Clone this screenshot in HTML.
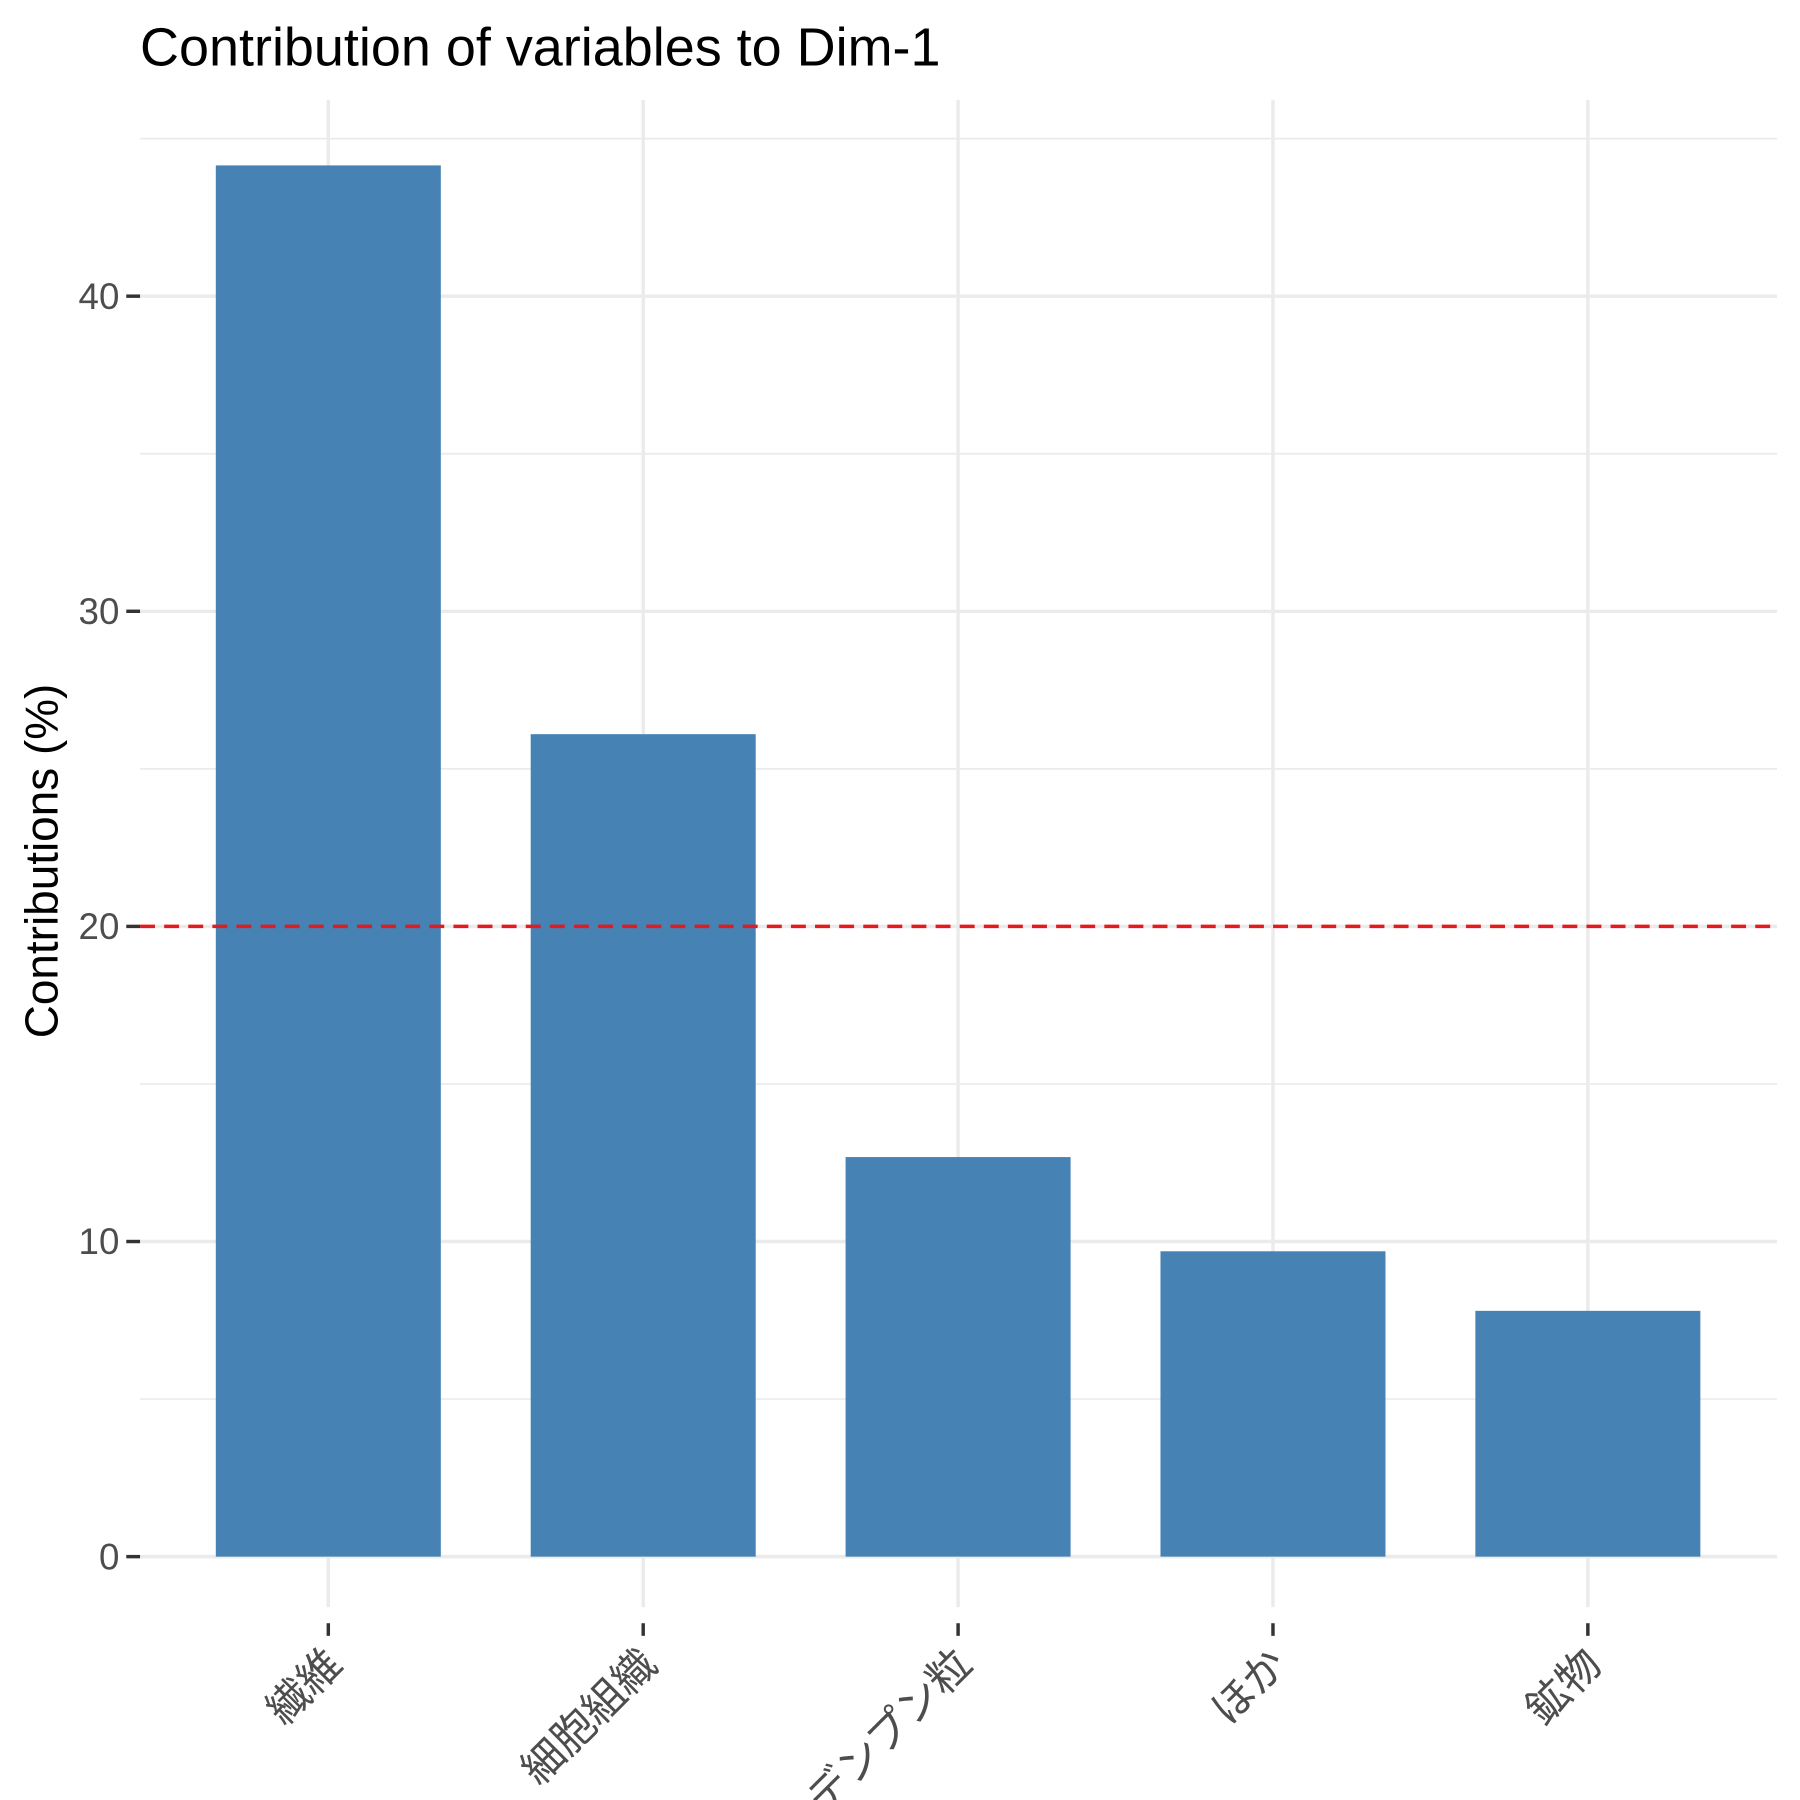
<!DOCTYPE html>
<html><head><meta charset="utf-8"><style>html,body{margin:0;padding:0;background:#fff}svg{display:block}</style></head>
<body>
<svg id="chart" width="1800" height="1800" viewBox="0 0 1568 1568" xmlns="http://www.w3.org/2000/svg" font-family="'Liberation Sans','Noto Sans CJK JP',sans-serif">
<rect width="1568" height="1568" fill="#fff"/>
<text x="122" y="57" font-size="47" fill="#000">Contribution of variables to Dim-1</text>
<text transform="translate(50,750) rotate(-90)" text-anchor="middle" font-size="40" fill="#000">Contributions (%)</text>
<g id="grid"></g><g id="bars"></g><g id="axes"></g>
</svg>
<script>
const categories = ["繊維","細胞組織","デンプン粒","ほか","鉱物"];
const values = [44.15, 26.1, 12.68, 9.69, 7.8];
const yTicks = [0,10,20,30,40];
const yMinor = [5,15,25,35,45];
const refLine = 20;
const NS="http://www.w3.org/2000/svg";
const L=122,R=1548,T=87,B=1400;
const y=v=>1356-v*27.45;
const x=i=>286+i*274.3;
const bw=196;
function mk(t,a,p){const e=document.createElementNS(NS,t);for(const k in a)e.setAttribute(k,a[k]);p.appendChild(e);return e;}
const grid=document.getElementById('grid'),bars=document.getElementById('bars'),axes=document.getElementById('axes');
yMinor.forEach(v=>{if(y(v)<T)return;const l=mk('line',{x1:L,x2:R,y1:y(v),y2:y(v),stroke:'#ebebeb','stroke-width':1.5},grid);

});
yTicks.forEach(v=>{const l=mk('line',{x1:L,x2:R,y1:y(v),y2:y(v),stroke:'#ebebeb','stroke-width':3},grid);


const t=mk('line',{x1:110,x2:122,y1:y(v),y2:y(v),stroke:'#333','stroke-width':3},axes);


const tx=mk('text',{x:104,y:y(v)+11,'text-anchor':'end','font-size':32,fill:'#4d4d4d'},axes);tx.textContent=v;

});
categories.forEach((c,i)=>{const g=mk('line',{x1:x(i),x2:x(i),y1:T,y2:B,stroke:'#ebebeb','stroke-width':3},grid);


const b=mk('rect',{x:x(i)-bw/2,y:y(values[i]),width:bw,height:y(0)-y(values[i]),fill:'#4682b4'},bars);


const t=mk('line',{x1:x(i),x2:x(i),y1:1414,y2:1425,stroke:'#333','stroke-width':3},axes);


const tx=mk('text',{transform:`translate(${x(i)+14},${1452}) rotate(-45)`,'text-anchor':'end','font-size':37,fill:'#4d4d4d'},axes);tx.textContent=c;

});
const rl=mk('line',{x1:L,x2:R,y1:y(refLine),y2:y(refLine),stroke:'#e41a1c','stroke-width':3,'stroke-dasharray':'13,8'},axes);


</script>
</body></html>
